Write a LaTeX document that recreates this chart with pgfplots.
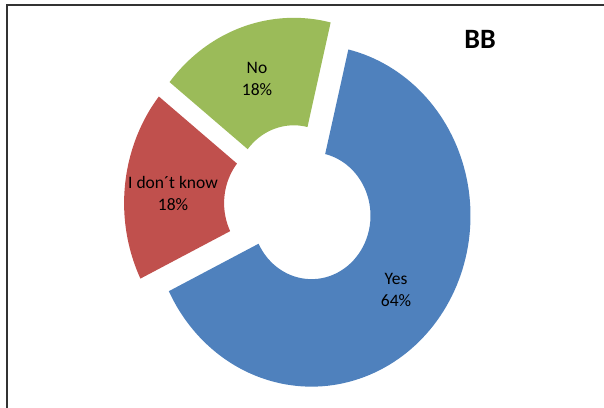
\documentclass[border=0pt]{standalone}
\usepackage{fontspec}
\setmainfont{Carlito}
\usepackage{pgfplots}
\pgfplotsset{compat=1.18}
\usepgfplotslibrary{fillbetween}
\definecolor{yesblue}{HTML}{4F81BD}
\definecolor{idkred}{HTML}{C0504D}
\definecolor{nogreen}{HTML}{9BBB59}
% data (percent)
\def\vYes{64}
\def\vIdk{18}
\def\vNo{18}
% geometry (picture units = px)
\def\cx{299}\def\cy{202}\def\R{159}\def\r{59}\def\k{1.075}\def\d{16}\def\startang{76.6}
\pgfmathsetmacro\aYa{\startang}
\pgfmathsetmacro\aYb{\aYa-3.6*\vYes}
\pgfmathsetmacro\aIa{\aYb}
\pgfmathsetmacro\aIb{\aIa-3.6*\vIdk}
\pgfmathsetmacro\aNa{\aIb}
\pgfmathsetmacro\aNb{\aNa-3.6*\vNo}
\pgfmathsetmacro\mY{(\aYa+\aYb)/2}
\pgfmathsetmacro\mI{(\aIa+\aIb)/2}
\pgfmathsetmacro\mN{(\aNa+\aNb)/2}
\pgfmathsetmacro\oYx{\cx+\d*cos(\mY)}\pgfmathsetmacro\oYy{\cy+\d*\k*sin(\mY)}
\pgfmathsetmacro\oIx{\cx+\d*cos(\mI)}\pgfmathsetmacro\oIy{\cy+\d*\k*sin(\mI)}
\pgfmathsetmacro\oNx{\cx+\d*cos(\mN)}\pgfmathsetmacro\oNy{\cy+\d*\k*sin(\mN)}
\begin{document}
\begin{tikzpicture}
\begin{axis}[at={(0,0)}, anchor=south west, scale only axis,
  width=604pt, height=407pt, xmin=0, xmax=604, ymin=0, ymax=407,
  hide axis, clip=false]
% Yes
\addplot[draw=none, name path=oY, domain=\aYb:\aYa, samples=120, variable=\t] ({\oYx+\R*cos(\t)},{\oYy+\R*\k*sin(\t)});
\addplot[draw=none, name path=iY, domain=\aYb:\aYa, samples=60, variable=\t] ({\oYx+\r*cos(\t)},{\oYy+\r*\k*sin(\t)});
\addplot[fill=yesblue, draw=none] fill between[of=oY and iY];
% I don't know
\addplot[draw=none, name path=oI, domain=\aIb:\aIa, samples=60, variable=\t] ({\oIx+\R*cos(\t)},{\oIy+\R*\k*sin(\t)});
\addplot[draw=none, name path=iI, domain=\aIb:\aIa, samples=30, variable=\t] ({\oIx+\r*cos(\t)},{\oIy+\r*\k*sin(\t)});
\addplot[fill=idkred, draw=none] fill between[of=oI and iI];
% No
\addplot[draw=none, name path=oN, domain=\aNb:\aNa, samples=60, variable=\t] ({\oNx+\R*cos(\t)},{\oNy+\R*\k*sin(\t)});
\addplot[draw=none, name path=iN, domain=\aNb:\aNa, samples=30, variable=\t] ({\oNx+\r*cos(\t)},{\oNy+\r*\k*sin(\t)});
\addplot[fill=nogreen, draw=none] fill between[of=oN and iN];
% labels
\node[align=center, font=\fontsize{17.5}{22}\selectfont] at (axis cs:396,117.5) {Yes\\64\%};
\node[align=center, font=\fontsize{17.5}{22}\selectfont] at (axis cs:173,214) {I don´t know\\18\%};
\node[align=center, font=\fontsize{17.5}{22}\selectfont] at (axis cs:257,328) {No\\18\%};
\node[font=\bfseries\fontsize{28}{30}\selectfont] at (axis cs:480,368) {BB};
% frame
\draw[line width=1.3pt, black!80] (axis cs:7,-10) -- (axis cs:7,402) -- (axis cs:620,402);
\end{axis}
\pgfresetboundingbox
\path[use as bounding box] (0,0) rectangle (604pt,407pt);
\end{tikzpicture}
\end{document}
